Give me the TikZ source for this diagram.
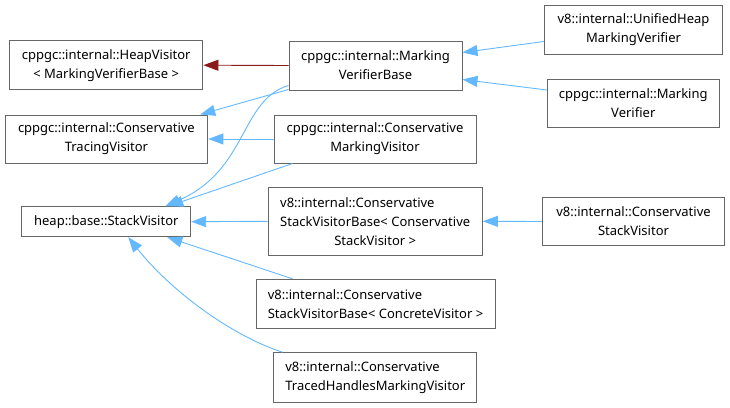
\documentclass[tikz,border=0pt]{standalone}
\usepackage{fontspec}
\setmainfont{Noto Sans}
\usepackage{tikz}
\usetikzlibrary{arrows.meta}
\definecolor{edgeblue}{HTML}{63B8FF}
\definecolor{edgered}{HTML}{8B1A1A}
\definecolor{boxgrey}{HTML}{666666}
% first line flush left inside the width of the widest line
\newcommand\leftrow[2]{\rlap{#1}\phantom{#2}}
\tikzset{
  cls/.style={draw=boxgrey, line width=1pt, fill=white, align=center, inner sep=0pt,
    font=\fontsize{13}{19}\selectfont, text=black},
  inh/.style={draw=edgeblue, line width=0.9pt, -{Triangle[length=15pt,width=11pt]}},
  tmpl/.style={draw=edgered, line width=0.9pt, -{Triangle[length=15pt,width=11pt]}}
}

\begin{document}
\begin{tikzpicture}[x=1pt, y=-1pt]
			%%%%% START %%%%%
			
			\useasboundingbox (0, 0) rectangle (730, 407);
			
			\node[cls, minimum width=193.5, minimum height=48.5] (hv) at (106.2, 65.2) {cppgc::internal::HeapVisitor\\< MarkingVerifierBase >};
			\node[cls, minimum width=173, minimum height=49] (mvb) at (375.5, 65.5) {cppgc::internal::Marking\\VerifierBase};
			\node[cls, minimum width=178.4, minimum height=49] (uhmv) at (633.5, 29.5) {v8::internal::UnifiedHeap\\MarkingVerifier};
			\node[cls, minimum width=172, minimum height=48] (mv) at (633.3, 103) {cppgc::internal::Marking\\Verifier};
			
			\node[cls, minimum width=202.7, minimum height=48] (ctv) at (106.4, 139) {cppgc::internal::Conservative\\TracingVisitor};
			\node[cls, minimum width=202, minimum height=48] (cmv) at (375, 139) {cppgc::internal::Conservative\\MarkingVisitor};
			
			\node[cls, minimum width=168.7, minimum height=30] (sv) at (106.3, 221.7) {heap::base::StackVisitor};
			\node[cls, minimum width=214.3, minimum height=68] (svbc) at (375.2, 221.3) {\leftrow{v8::internal::Conservative}{StackVisitorBase< Conservative}\\StackVisitorBase< Conservative\\StackVisitor >};
			\node[cls, minimum width=181.6, minimum height=48.4] (csv) at (633.5, 221.5) {v8::internal::Conservative\\StackVisitor};
			
			\node[cls, minimum width=239, minimum height=49] (svbcv) at (375.5, 303.8) {\leftrow{v8::internal::Conservative}{StackVisitorBase< ConcreteVisitor >}\\StackVisitorBase< ConcreteVisitor >};
			\node[cls, minimum width=202.7, minimum height=49.6] (thmv) at (375.3, 377.5) {\leftrow{v8::internal::Conservative}{TracedHandlesMarkingVisitor}\\TracedHandlesMarkingVisitor};
			
			\draw[tmpl] (mvb.west) -- (hv.east);
			\draw[inh] ([yshift=-12pt]uhmv.west) -- ([yshift=13pt]mvb.east);
			\draw[inh] ([yshift=13pt]mv.west) -- ([yshift=-14pt]mvb.east);
			\draw[inh] ([yshift=1pt]mvb.south west) -- ([xshift=-8pt]ctv.north east);
			\draw[inh] ([yshift=5pt]mvb.south west) .. controls (240, 100) and (248, 170) .. ([xshift=59pt]sv.north);
			\draw[inh] (cmv.west) -- (ctv.east);
			\draw[inh] ([xshift=19pt]cmv.south west) -- ([xshift=62pt]sv.north);
			\draw[inh] (svbc.west) -- (sv.east);
			\draw[inh] (csv.west) -- (svbc.east);
			\draw[inh] ([xshift=37pt]svbcv.north west) -- ([xshift=61pt]sv.south);
			\draw[inh] ([xshift=9pt]thmv.north west) .. controls (230, 335) and (170, 290) .. ([xshift=22pt]sv.south);
			
			%%%%% END %%%%%
\end{tikzpicture}
\end{document}
